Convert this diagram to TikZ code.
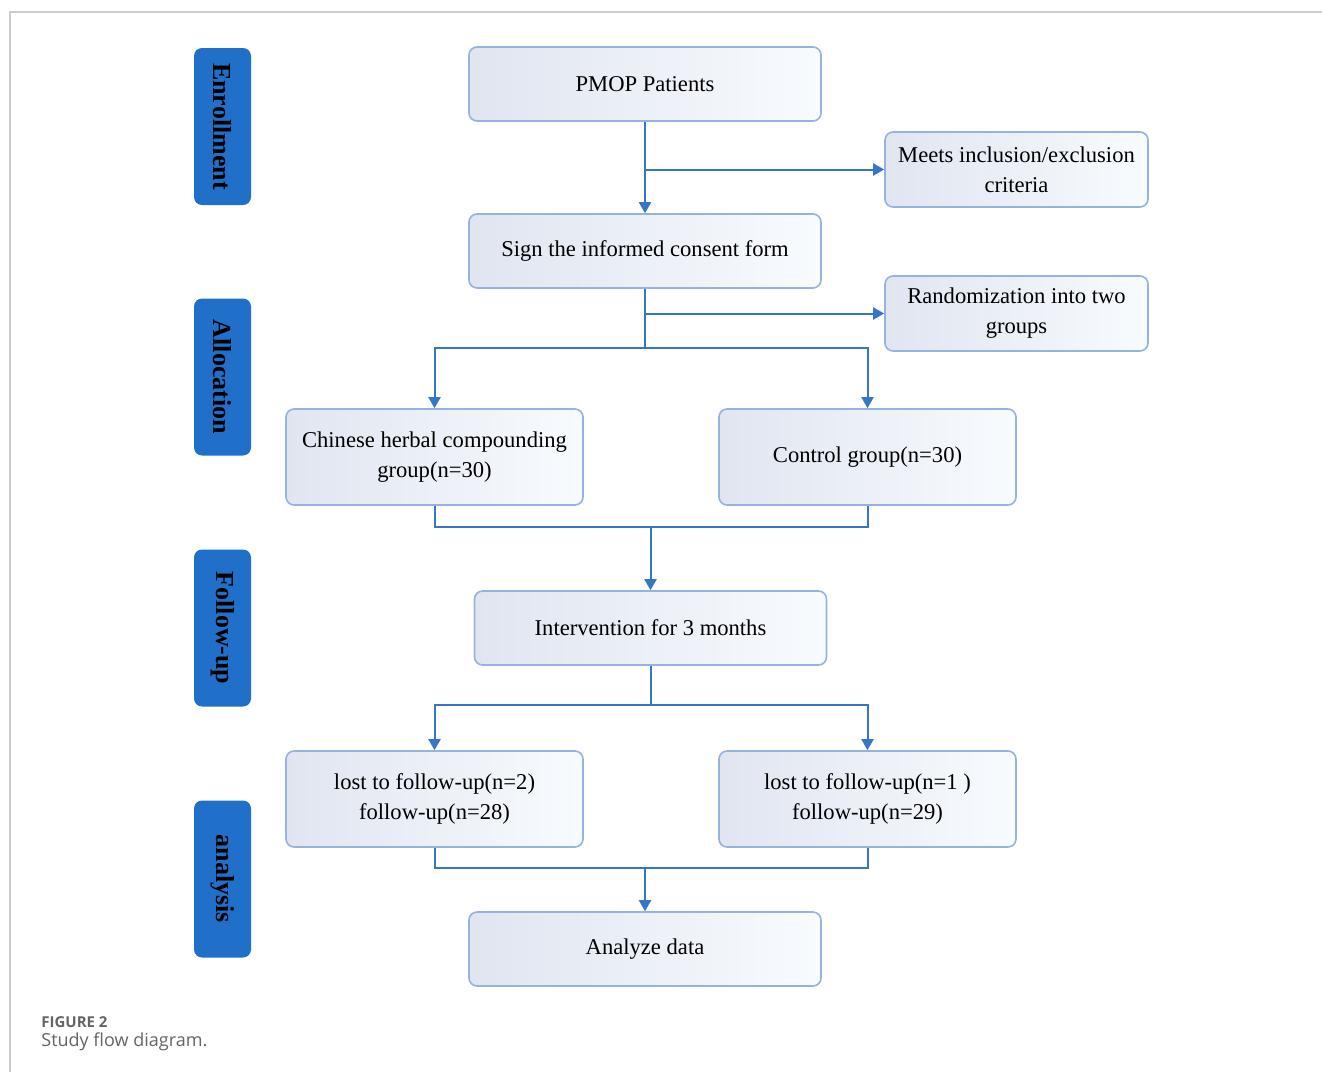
\documentclass[tikz,border=0pt]{standalone}
\usepackage{fontspec}
\setmainfont{Liberation Serif}
\newfontfamily\capfont{Open Sans}
\usepackage{tikz}
\usetikzlibrary{arrows.meta}

\definecolor{linkblue}{RGB}{52,118,200}
\definecolor{boxedge}{RGB}{150,178,222}
\definecolor{boxshade}{RGB}{224,229,240}
\definecolor{boxlight}{RGB}{248,251,254}
\definecolor{stageblue}{RGB}{32,112,202}
\definecolor{framegray}{RGB}{204,204,204}
\definecolor{capgray}{RGB}{100,100,100}

\tikzset{
    flowbox/.style={draw=boxedge, line width=0.8pt, rounded corners=4pt,
        left color=boxshade, right color=boxlight, align=center,
        font=\fontsize{11.3}{15}\selectfont, inner sep=0pt},
    widebox/.style={flowbox, minimum width=176pt, minimum height=37pt},
    sidebox/.style={flowbox, minimum width=131.5pt, minimum height=37.5pt},
    groupbox/.style={flowbox, minimum width=148.5pt, minimum height=48pt},
    stagebox/.style={fill=stageblue, rounded corners=4pt, rotate=-90,
        minimum width=78.5pt, minimum height=28.5pt, inner sep=0pt,
        font=\fontsize{13}{15}\selectfont\bfseries},
    link/.style={draw=linkblue, line width=1pt},
    flow/.style={link, -{Triangle[width=6pt,length=5.5pt]}}
}

\begin{document}
\begin{tikzpicture}[x=0.5pt,y=-0.5pt]
    \useasboundingbox (0,0) rectangle (1322,1072);
    \draw[framegray, line width=0.8pt] (10,1072) -- (10,12) -- (1322,12);

    % stages
    \node[stagebox] (enroll) at (222.5,126.5) {Enrollment};
    \node[stagebox] (alloc) at (222.5,377) {Allocation};
    \node[stagebox] (follow) at (222.5,628) {Follow-up};
    \node[stagebox] (analysis) at (222.5,879) {analysis};

    % boxes
    \node[widebox] (pmop) at (645,84) {PMOP Patients};
    \node[sidebox] (meets) at (1016.5,169.5) {Meets inclusion/exclusion\\criteria};
    \node[widebox] (sign) at (645,251) {Sign the informed consent form};
    \node[sidebox] (random) at (1016.5,313.5) {Randomization into two\\groups};
    \node[groupbox] (herbal) at (434.5,457) {Chinese herbal compounding\\group(n=30)};
    \node[groupbox] (control) at (867.5,457) {Control group(n=30)};
    \node[widebox] (interv) at (650.5,628) {Intervention for 3 months};
    \node[groupbox] (lostA) at (434.5,799) {lost to follow-up(n=2)\\follow-up(n=28)};
    \node[groupbox] (lostB) at (867.5,799) {lost to follow-up(n=1 )\\follow-up(n=29)};
    \node[widebox] (analyze) at (645,949) {Analyze data};

    % branch points
    \coordinate (split1) at (645,348);
    \coordinate (merge1) at (650.5,527);
    \coordinate (split2) at (650.5,705);
    \coordinate (merge2) at (645,868);

    % connectors
    \draw[flow] (pmop.south) -- (sign.north);
    \draw[flow] (pmop.south |- meets.west) -- (meets.west);
    \draw[link] (sign.south) -- (split1);
    \draw[flow] (sign.south |- random.west) -- (random.west);
    \draw[flow] (split1) -| (herbal.north);
    \draw[flow] (split1) -| (control.north);
    \draw[link] (herbal.south) |- (merge1);
    \draw[link] (control.south) |- (merge1);
    \draw[flow] (merge1) -- (interv.north);
    \draw[link] (interv.south) -- (split2);
    \draw[flow] (split2) -| (lostA.north);
    \draw[flow] (split2) -| (lostB.north);
    \draw[link] (lostA.south) |- (merge2);
    \draw[link] (lostB.south) |- (merge2);
    \draw[flow] (merge2) -- (analyze.north);

    % caption
    \node[anchor=west, inner sep=0pt, text=capgray, font=\capfont\fontsize{7.5}{9}\selectfont\bfseries] (figno) at (41,1022) {FIGURE 2};
    \node[anchor=west, inner sep=0pt, text=capgray, font=\capfont\fontsize{9}{11}\selectfont] (figcap) at (41,1042) {Study flow diagram.};
\end{tikzpicture}
\end{document}
